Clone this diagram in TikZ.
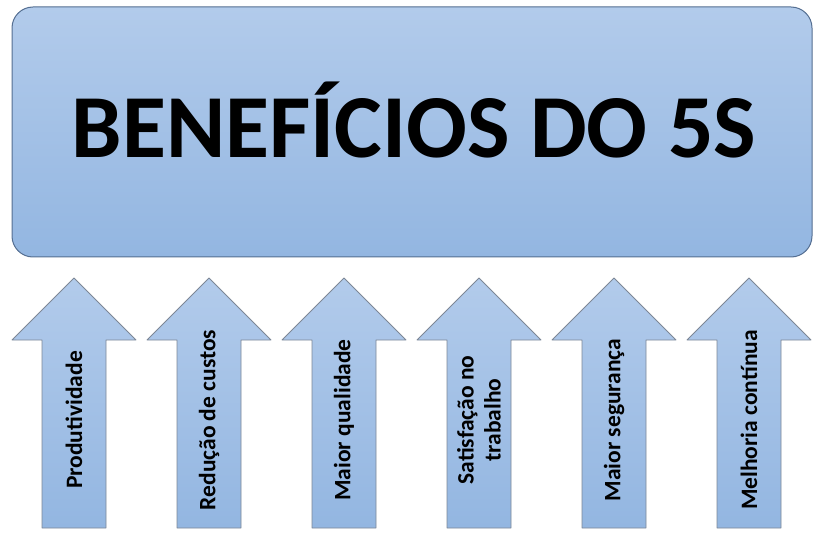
\documentclass[tikz,border=0pt]{standalone}
\usepackage{fontspec}
\setmainfont{Carlito}
\definecolor{boxtop}{RGB}{178,203,235}
\definecolor{boxbot}{RGB}{147,182,225}
\definecolor{boxline}{RGB}{84,110,145}
\definecolor{arrline}{RGB}{125,135,150}
\begin{document}
\begin{tikzpicture}[x=1pt,y=-1pt,line join=round]
		\tikzset{panel/.style={draw=boxline,line width=1pt,top color=boxtop,bottom color=boxbot,rounded corners=21pt},
			upbox/.style={draw=arrline,line width=0.8pt,top color=boxtop,bottom color=boxbot},
			lbl/.style={rotate=90,align=center,font=\bfseries\fontsize{23.5}{27}\selectfont}}
		\useasboundingbox (0,0) rectangle (822,540);
		\draw[panel] (12,7) rectangle (812,257);
		\node[anchor=base,font=\bfseries\fontsize{90}{100}\selectfont] (title) at (414,158) {BENEFÍCIOS DO 5S};
		\foreach \x/\name/\txt in {74/prod/Produtividade,209/cust/Redução de custos,344/qual/Maior qualidade,
			479/sat/{Satisfação no\\trabalho},614/seg/Maior segurança,749/melh/Melhoria contínua}{
			\draw[upbox] (\x,278)--(\x+62,340)--(\x+32,340)--(\x+32,528)--(\x-32,528)--(\x-32,340)--(\x-62,340)--cycle;
			\node[lbl] (\name) at (\x,420) {\txt};
		}
\end{tikzpicture}
\end{document}
